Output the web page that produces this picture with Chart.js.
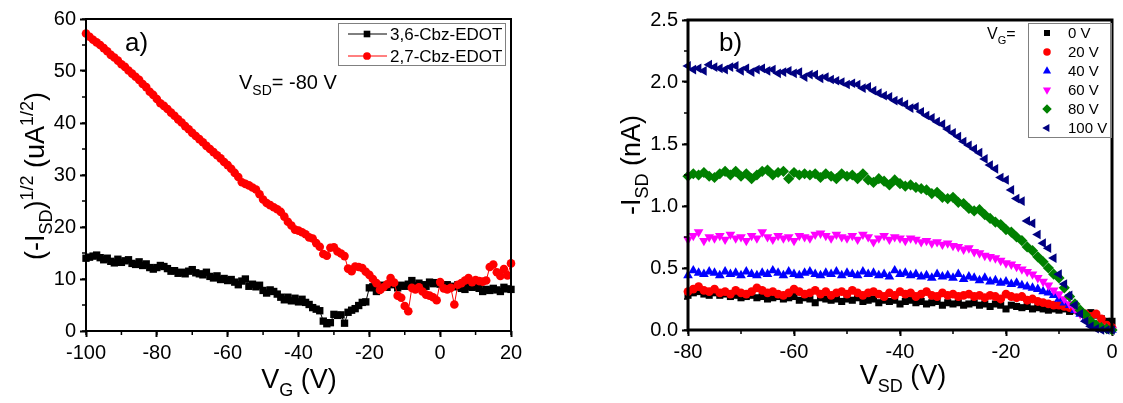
<!DOCTYPE html>
<html>
<head>
<meta charset="utf-8">
<script src="https://cdn.jsdelivr.net/npm/chart.js@4.4.1/dist/chart.umd.min.js"></script>
<style>
    html, body { margin: 0; padding: 0; background: #fff; }
    #wrap { position: relative; width: 1123px; height: 403px; overflow: hidden; }
    canvas { position: absolute; top: 0; }
    #chart-a { left: 0; }
    #chart-b { left: 560px; }
</style>
</head>
<body>
<div id="wrap">
    <canvas id="chart-a" width="560" height="403"></canvas>
    <canvas id="chart-b" width="563" height="403"></canvas>
</div>
<script>
/* Panel a: transfer curves at V_SD = -80 V */
var vgA = [
    -100, -99, -98, -97, -96, -95, -94, -93, -92, -91,
    -90, -89, -88, -87, -86, -85, -84, -83, -82, -81,
    -80, -79, -78, -77, -76, -75, -74, -73, -72, -71,
    -70, -69, -68, -67, -66, -65, -64, -63, -62, -61,
    -60, -59, -58, -57, -56, -55, -54, -53, -52, -51,
    -50, -49, -48, -47, -46, -45, -44, -43, -42, -41,
    -40, -39, -38, -37, -36, -35, -34, -33, -32, -31,
    -30, -29, -28, -27, -26, -25, -24, -23, -22, -21,
    -20, -19, -18, -17, -16, -15, -14, -13, -12, -11,
    -10, -9, -8, -7, -6, -5, -4, -3, -2, -1,
    0, 1, 2, 3, 4, 5, 6, 7, 8, 9,
    10, 11, 12, 13, 14, 15, 16, 17, 18, 19,
    20
];
var cbz36 = [
    14.0, 14.2, 14.4, 14.6, 14.1, 13.7, 14.0, 13.4, 13.1, 13.8,
    13.2, 13.5, 13.7, 13.0, 12.8, 13.3, 12.6, 12.9, 12.2, 11.9,
    12.2, 12.6, 12.4, 12.0, 11.5, 11.6, 11.1, 11.3, 11.0, 11.5,
    11.8, 11.2, 11.0, 10.8, 11.3, 10.5, 10.2, 10.6, 9.9, 10.1,
    9.7, 9.9, 9.4, 8.9, 9.6, 10.0, 8.6, 9.0, 8.5, 8.8,
    7.8, 7.3, 7.9, 7.6, 7.1, 6.5, 6.0, 6.5, 5.8, 6.3,
    5.6, 6.1, 5.5, 5.1, 4.5, 4.2, 3.9, 1.9, 1.4, 1.6,
    3.2, 3.0, 3.1, 1.5, 3.6, 4.0, 4.3, 4.9, 5.5, 5.6,
    8.3, 8.5, 7.6, 8.1, 8.8, 8.4, 9.1, 8.9, 8.3, 8.8,
    8.6, 9.0, 9.7, 8.7, 9.2, 8.9, 8.6, 9.4, 9.1, 9.3,
    9.0, 8.8, 8.9, 8.6, 8.5, 8.9, 8.2, 8.0, 8.6, 8.4,
    8.5, 8.2, 7.6, 8.0, 7.8, 8.2, 7.9, 7.6, 8.4, 8.1,
    8.0
];
var cbz27 = [
    57.2, 56.6, 56.0, 55.5, 55.0, 54.4, 53.8, 53.1, 52.6, 52.0,
    51.3, 50.8, 50.1, 49.5, 48.9, 48.3, 47.5, 46.9, 46.0, 45.4,
    44.6, 43.8, 43.3, 42.7, 42.0, 41.4, 40.7, 40.1, 39.4, 38.8,
    38.1, 37.5, 36.9, 36.3, 35.6, 35.0, 34.4, 33.8, 33.2, 32.5,
    31.9, 31.2, 30.4, 29.6, 28.6, 28.3, 28.0, 27.6, 27.2, 26.3,
    25.3, 24.6, 24.2, 23.8, 23.4, 22.9, 22.0, 21.0, 20.3, 19.5,
    19.3, 19.0, 18.6, 18.0, 17.8, 16.9, 16.2, 14.8, 14.5, 16.0,
    16.1, 15.3, 14.9, 14.4, 12.0, 11.5, 12.4, 12.3, 12.1, 11.4,
    10.8, 10.0, 9.2, 7.9, 8.4, 9.0, 10.2, 9.3, 6.8, 6.4,
    4.8, 3.8, 8.3, 8.0, 8.4, 7.6, 7.0, 6.8, 6.5, 5.9,
    9.4, 8.2, 8.0, 8.3, 5.1, 8.9, 9.2, 9.7, 10.2, 9.4,
    9.8, 9.6, 9.5, 9.7, 12.3, 12.8, 11.3, 10.6, 11.9, 10.7,
    13.0
];
var seriesA = ['3,6-Cbz-EDOT', '2,7-Cbz-EDOT'];

/* Panel b: output curves for several gate voltages */
var vsdB = [
    -80, -79, -78, -77, -76, -75, -74, -73, -72, -71,
    -70, -69, -68, -67, -66, -65, -64, -63, -62, -61,
    -60, -59, -58, -57, -56, -55, -54, -53, -52, -51,
    -50, -49, -48, -47, -46, -45, -44, -43, -42, -41,
    -40, -39, -38, -37, -36, -35, -34, -33, -32, -31,
    -30, -29, -28, -27, -26, -25, -24, -23, -22, -21,
    -20, -19, -18, -17, -16, -15, -14, -13, -12, -11,
    -10, -9, -8, -7, -6, -5, -4, -3, -2, -1,
    0
];
var isd0 = [
    0.28, 0.30, 0.31, 0.29, 0.28, 0.30, 0.28, 0.29, 0.27, 0.28,
    0.26, 0.27, 0.28, 0.26, 0.27, 0.25, 0.26, 0.27, 0.25, 0.26,
    0.27, 0.24, 0.26, 0.25, 0.22, 0.26, 0.25, 0.24, 0.25, 0.23,
    0.25, 0.24, 0.26, 0.23, 0.24, 0.25, 0.22, 0.24, 0.23, 0.24,
    0.21, 0.23, 0.24, 0.22, 0.23, 0.21, 0.22, 0.23, 0.20, 0.22,
    0.21, 0.22, 0.20, 0.21, 0.22, 0.20, 0.21, 0.19, 0.21, 0.20,
    0.17, 0.20, 0.19, 0.18, 0.19, 0.17, 0.18, 0.17, 0.16, 0.17,
    0.16, 0.17, 0.15, 0.16, 0.14, 0.13, 0.14, 0.12, 0.09, 0.07,
    0.07
];
var isd20 = [
    0.31, 0.33, 0.35, 0.32, 0.31, 0.33, 0.30, 0.31, 0.29, 0.32,
    0.30, 0.29, 0.31, 0.34, 0.32, 0.30, 0.31, 0.29, 0.28, 0.30,
    0.33, 0.31, 0.29, 0.30, 0.32, 0.29, 0.31, 0.28, 0.30, 0.31,
    0.29, 0.32, 0.30, 0.28, 0.30, 0.31, 0.29, 0.27, 0.30, 0.28,
    0.31, 0.29, 0.30, 0.27, 0.29, 0.31, 0.28, 0.27, 0.30, 0.28,
    0.29, 0.27, 0.28, 0.29, 0.27, 0.28, 0.26, 0.28, 0.27, 0.25,
    0.29, 0.27, 0.26, 0.27, 0.24, 0.25, 0.23, 0.22, 0.21, 0.20,
    0.20, 0.19, 0.18, 0.17, 0.15, 0.13, 0.11, 0.13, 0.09, 0.04,
    0.02
];
var isd40 = [
    0.44, 0.48, 0.46, 0.45, 0.47, 0.46, 0.44, 0.47, 0.45, 0.46,
    0.44, 0.47, 0.45, 0.44, 0.46, 0.45, 0.48, 0.46, 0.44, 0.47,
    0.45, 0.44, 0.46, 0.47, 0.45, 0.44, 0.46, 0.45, 0.47, 0.44,
    0.46, 0.45, 0.44, 0.47, 0.45, 0.46, 0.44, 0.45, 0.43, 0.48,
    0.45, 0.46, 0.44, 0.45, 0.43, 0.44, 0.42, 0.45, 0.43, 0.44,
    0.42, 0.45, 0.41, 0.43, 0.42, 0.40, 0.42, 0.39, 0.40, 0.38,
    0.39, 0.37, 0.38, 0.36, 0.35, 0.34, 0.33, 0.31, 0.30, 0.28,
    0.25, 0.22, 0.20, 0.16, 0.13, 0.09, 0.06, 0.04, 0.02, 0.01,
    0.00
];
var isd60 = [
    0.73, 0.76, 0.79, 0.72, 0.75, 0.74, 0.76, 0.73, 0.77, 0.74,
    0.75, 0.72, 0.76, 0.74, 0.79, 0.75, 0.73, 0.76, 0.74, 0.75,
    0.72, 0.76, 0.75, 0.74, 0.77, 0.78, 0.76, 0.74, 0.77, 0.75,
    0.74, 0.76, 0.73, 0.77, 0.75, 0.71, 0.74, 0.76, 0.73, 0.75,
    0.74, 0.72, 0.74, 0.73, 0.71, 0.72, 0.70, 0.71, 0.69, 0.70,
    0.68, 0.67, 0.65, 0.66, 0.63, 0.62, 0.60, 0.59, 0.58, 0.56,
    0.54, 0.53, 0.51, 0.49, 0.47, 0.45, 0.42, 0.39, 0.36, 0.32,
    0.29, 0.25, 0.21, 0.17, 0.13, 0.10, 0.06, 0.03, 0.02, 0.01,
    0.00
];
var isd80 = [
    1.24, 1.26, 1.25, 1.27, 1.24, 1.23, 1.26, 1.28, 1.25, 1.28,
    1.24, 1.26, 1.22, 1.25, 1.28, 1.29, 1.25, 1.27, 1.28, 1.22,
    1.27, 1.25, 1.26, 1.25, 1.26, 1.23, 1.26, 1.24, 1.22, 1.26,
    1.24, 1.25, 1.22, 1.26, 1.21, 1.19, 1.22, 1.20, 1.17, 1.21,
    1.18, 1.16, 1.17, 1.15, 1.14, 1.13, 1.10, 1.11, 1.07, 1.06,
    1.07, 1.03, 1.02, 0.98, 0.96, 0.97, 0.93, 0.90, 0.87, 0.85,
    0.81, 0.79, 0.75, 0.72, 0.67, 0.64, 0.59, 0.55, 0.50, 0.45,
    0.42, 0.34, 0.27, 0.21, 0.16, 0.12, 0.07, 0.04, 0.02, 0.01,
    0.00
];
var isd100 = [
    2.13, 2.10, 2.11, 2.09, 2.14, 2.12, 2.11, 2.10, 2.12, 2.13,
    2.09, 2.11, 2.08, 2.10, 2.11, 2.09, 2.10, 2.07, 2.08, 2.09,
    2.07, 2.08, 2.04, 2.06, 2.06, 2.03, 2.04, 2.02, 2.01, 2.00,
    1.98, 1.99, 1.98, 1.95, 1.96, 1.93, 1.91, 1.89, 1.88, 1.85,
    1.84, 1.82, 1.79, 1.80, 1.76, 1.73, 1.71, 1.68, 1.66, 1.62,
    1.59, 1.56, 1.52, 1.49, 1.46, 1.43, 1.38, 1.33, 1.30, 1.23,
    1.21, 1.13, 1.06, 1.04, 0.88, 0.86, 0.77, 0.70, 0.66, 0.58,
    0.45, 0.37, 0.28, 0.20, 0.13, 0.07, 0.03, 0.01, 0.00, 0.00,
    0.00
];
var gateLabels = ['0 V', '20 V', '40 V', '60 V', '80 V', '100 V'];

var FONT = '"Liberation Sans", Arial, sans-serif';
Chart.defaults.font.family = FONT;
Chart.defaults.color = '#000';

function toPoints(xs, ys) {
    return xs.map(function (x, i) { return { x: x, y: ys[i] }; });
}

// text with sub/superscript pieces, optionally rotated
function drawRich(ctx, t) {
    var big = t.size + 'px ' + FONT;
    var small = t.small + 'px ' + FONT;
    var w = 0;
    t.parts.forEach(function (p) {
        ctx.font = p[1] ? small : big;
        w += ctx.measureText(p[0]).width;
    });
    ctx.save();
    ctx.translate(t.x, t.y);
    if (t.rotate) ctx.rotate(-Math.PI / 2);
    ctx.fillStyle = '#000';
    ctx.textAlign = 'left';
    ctx.textBaseline = 'alphabetic';
    var cx = t.align === 'left' ? 0 : -w / 2;
    t.parts.forEach(function (p) {
        ctx.font = p[1] ? small : big;
        var dy = p[1] === 'sub' ? t.size * 0.3 : (p[1] === 'sup' ? -t.size * 0.42 : 0);
        ctx.fillText(p[0], cx, dy);
        cx += ctx.measureText(p[0]).width;
    });
    ctx.restore();
}

function marker(ctx, ds, r, x, y) {
    ctx.fillStyle = ds.pointBackgroundColor;
    Chart.helpers.drawPoint(ctx, {
        pointStyle: ds.pointStyle,
        rotation: ds.pointRotation || 0,
        radius: r,
        borderWidth: 0
    }, x, y);
}

var framePlugin = {
    id: 'frame',
    afterDraw: function (chart, args, opts) {
        var ctx = chart.ctx;
        var a = chart.chartArea;
        var xs = chart.scales.x, ys = chart.scales.y;
        var v, p;
        ctx.save();
        ctx.strokeStyle = '#000';
        ctx.lineWidth = opts.width;
        ctx.strokeRect(a.left, a.top, a.right - a.left, a.bottom - a.top);

        // minor ticks
        ctx.lineWidth = 1.5;
        ctx.beginPath();
        for (v = xs.min; v <= xs.max + 1e-9; v += opts.minorX) {
            p = xs.getPixelForValue(v);
            ctx.moveTo(p, a.bottom);
            ctx.lineTo(p, a.bottom + 4);
        }
        for (v = ys.min; v <= ys.max + 1e-9; v += opts.minorY) {
            p = ys.getPixelForValue(v);
            ctx.moveTo(a.left, p);
            ctx.lineTo(a.left - 4, p);
        }
        ctx.stroke();

        (opts.texts || []).forEach(function (t) { drawRich(ctx, t); });
        if (opts.legend) opts.legend(chart, ctx);
        ctx.restore();
    }
};

function scaleY(w, min, max, step, fmt) {
    return {
        type: 'linear', min: min, max: max,
        afterFit: function (s) { s.width = w; },
        border: { display: false },
        grid: { drawOnChartArea: false, tickLength: 6, tickWidth: 2, tickColor: '#000' },
        ticks: {
            stepSize: step, padding: 4, color: '#000',
            font: { size: 20 },
            callback: fmt
        }
    };
}

function scaleX(h, min, max, step) {
    return {
        type: 'linear', min: min, max: max,
        afterFit: function (s) { s.height = h; },
        border: { display: false },
        grid: { drawOnChartArea: false, tickLength: 6, tickWidth: 2, tickColor: '#000' },
        ticks: { stepSize: step, padding: 4, color: '#000', font: { size: 20 }, maxRotation: 0 }
    };
}

// Panel a
var dsA = [
    {
        label: seriesA[1], data: toPoints(vgA, cbz27),
        showLine: true, borderColor: '#ff0000', borderWidth: 1,
        pointStyle: 'circle', pointRadius: 4.3, pointBorderWidth: 0,
        pointBackgroundColor: '#ff0000', clip: false
    },
    {
        label: seriesA[0], data: toPoints(vgA, cbz36),
        showLine: true, borderColor: '#000', borderWidth: 1,
        pointStyle: 'rect', pointRadius: 5.2, pointBorderWidth: 0,
        pointBackgroundColor: '#000', clip: false
    }
];

new Chart(document.getElementById('chart-a'), {
    type: 'scatter',
    data: { datasets: dsA },
    options: {
        responsive: false,
        animation: false,
        layout: { padding: { left: 0, top: 19, right: 49, bottom: 0 } },
        plugins: {
            legend: { display: false },
            tooltip: { enabled: false },
            frame: {
                width: 2, minorX: 10, minorY: 5,
                texts: [
                    { x: 44, y: 176, rotate: true, size: 27, small: 18,
                      parts: [['(-I', ''], ['SD', 'sub'], [')', ''], ['1/2', 'sup'], [' (uA', ''], ['1/2', 'sup'], [')', '']] },
                    { x: 299, y: 388, size: 27, small: 18, parts: [['V', ''], ['G', 'sub'], [' (V)', '']] },
                    { x: 125, y: 51, align: 'left', size: 26, small: 18, parts: [['a)', '']] },
                    { x: 239, y: 89, align: 'left', size: 20, small: 14, parts: [['V', ''], ['SD', 'sub'], ['= -80 V', '']] }
                ],
                legend: function (chart, ctx) {
                    ctx.lineWidth = 1;
                    ctx.strokeStyle = '#808080';
                    ctx.strokeRect(338.5, 23.5, 167, 42);
                    [dsA[1], dsA[0]].forEach(function (ds, i) {
                        var y = 34 + i * 22;
                        ctx.strokeStyle = ds.borderColor;
                        ctx.beginPath();
                        ctx.moveTo(348, y);
                        ctx.lineTo(387, y);
                        ctx.stroke();
                        marker(ctx, ds, ds.pointRadius * 0.9, 367, y);
                        ctx.fillStyle = '#000';
                        ctx.font = '17px ' + FONT;
                        ctx.textBaseline = 'middle';
                        ctx.fillText(ds.label, 390, y + 1);
                    });
                }
            }
        },
        scales: {
            x: scaleX(72, -100, 20, 20),
            y: scaleY(86, 0, 60, 10, function (v) { return v; })
        }
    },
    plugins: [framePlugin]
});

// Panel b
var colorsB = ['#000000', '#ff0000', '#0000ff', '#ff00ff', '#008000', '#000080'];
var stylesB = ['rect', 'circle', 'triangle', 'triangle', 'rectRot', 'triangle'];
var rotB = [0, 0, 0, 180, 0, -90];
var radB = [5.0, 4.4, 5.6, 5.6, 5.6, 5.6];
var valsB = [isd0, isd20, isd40, isd60, isd80, isd100];

var dsB = valsB.map(function (vals, i) {
    return {
        label: gateLabels[i], data: toPoints(vsdB, vals),
        showLine: false, order: 5 - i,
        pointStyle: stylesB[i], pointRotation: rotB[i], pointRadius: radB[i],
        pointBorderWidth: 0, pointBackgroundColor: colorsB[i], clip: false
    };
});

new Chart(document.getElementById('chart-b'), {
    type: 'scatter',
    data: { datasets: dsB },
    options: {
        responsive: false,
        animation: false,
        layout: { padding: { left: 0, top: 20, right: 11, bottom: 0 } },
        plugins: {
            legend: { display: false },
            tooltip: { enabled: false },
            frame: {
                width: 3, minorX: 10, minorY: 0.25,
                texts: [
                    { x: 80, y: 165, rotate: true, size: 27, small: 18, parts: [['-I', ''], ['SD', 'sub'], [' (nA)', '']] },
                    { x: 343, y: 384, size: 27, small: 18, parts: [['V', ''], ['SD', 'sub'], [' (V)', '']] },
                    { x: 159, y: 51, align: 'left', size: 26, small: 18, parts: [['b)', '']] },
                    { x: 427, y: 39, align: 'left', size: 16, small: 11, parts: [['V', ''], ['G', 'sub'], ['=', '']] }
                ],
                legend: function (chart, ctx) {
                    ctx.lineWidth = 1;
                    ctx.strokeStyle = '#808080';
                    ctx.strokeRect(468.5, 23.5, 83, 114);
                    dsB.forEach(function (ds, i) {
                        var y = 33 + i * 19;
                        marker(ctx, ds, ds.pointRadius * 0.85, 487, y);
                        ctx.fillStyle = '#000';
                        ctx.font = '15px ' + FONT;
                        ctx.textBaseline = 'middle';
                        ctx.fillText(ds.label, 508, y + 1);
                    });
                }
            }
        },
        scales: {
            x: scaleX(73, -80, 0, 20),
            y: scaleY(128, 0, 2.5, 0.5, function (v) { return v.toFixed(1); })
        }
    },
    plugins: [framePlugin]
});
</script>
</body>
</html>
